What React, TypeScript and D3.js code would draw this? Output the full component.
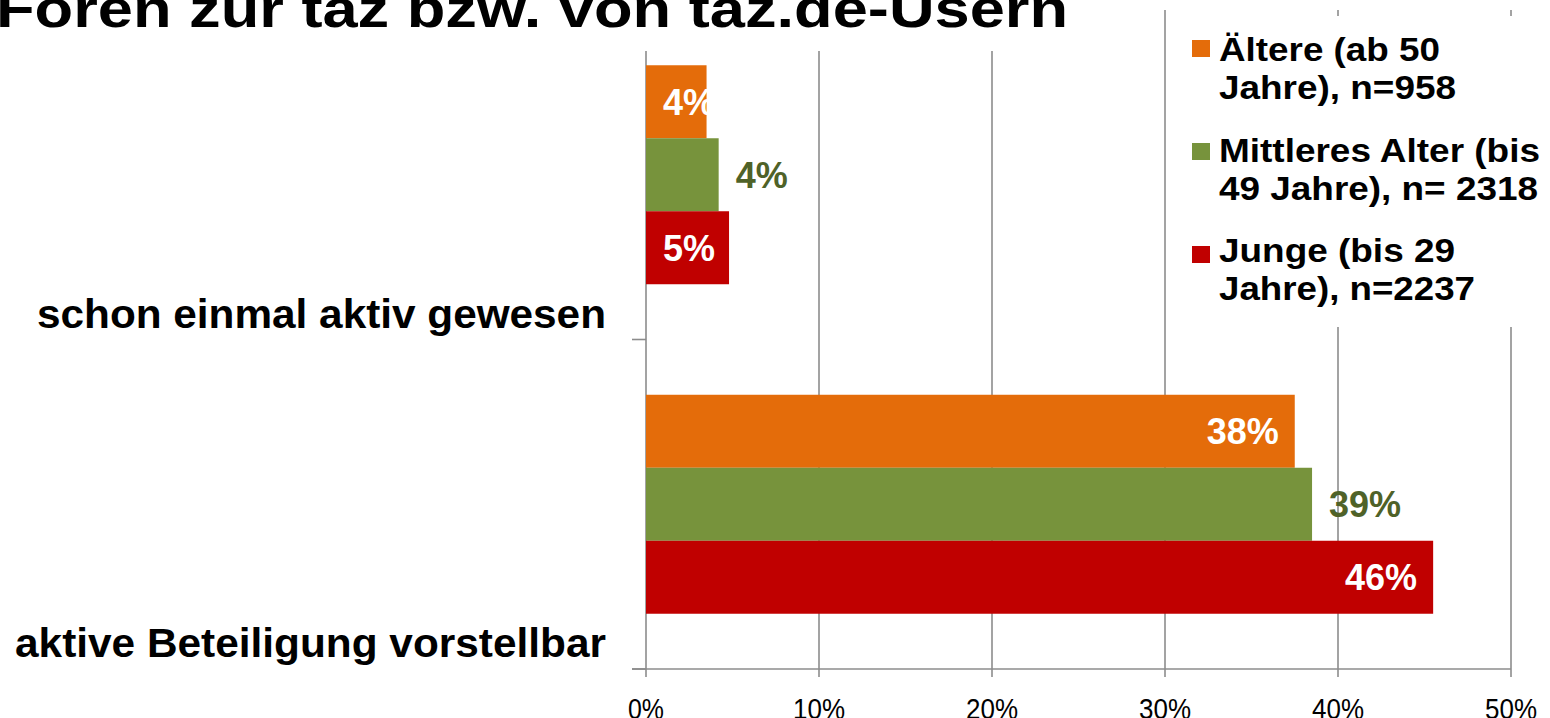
import React from "react";
import * as d3 from "d3";

const title = "Foren zur taz bzw. von taz.de-Usern";
const categories = ["schon einmal aktiv gewesen", "aktive Beteiligung vorstellbar"];
const seriesNames = ["Ältere", "Mittleres Alter", "Junge"];
const legendLines = [
  ["Ältere (ab 50", "Jahre), n=958"],
  ["Mittleres Alter (bis", "49 Jahre), n= 2318"],
  ["Junge (bis 29", "Jahre), n=2237"],
];
const aeltere = [3.5, 37.5];
const mittlere = [4.2, 38.5];
const junge = [4.8, 45.5];
const xTicks = [0, 10, 20, 30, 40, 50];

const colors = ["#E46C0A", "#77933C", "#C00000"];
const labelColors = ["#FFFFFF", "#4F6228", "#FFFFFF"];
const labelPos = ["inside", "outside", "inside"];
const legendWidths = [[221, 237], [321, 319], [236, 256]];
const catLabelWidths = [569, 591];

const FONT = "'Liberation Sans', Arial, Helvetica, sans-serif";

export default function App() {
  const W = 1550, H = 718;
  const x0 = 646, x1 = 1511, yTop = 10, yBot = 669;
  const series = [aeltere, mittlere, junge];

  const x = d3.scaleLinear().domain([0, 50]).range([x0, x1]);
  const y = d3.scaleBand().domain(categories).range([yTop, yBot]);
  const bw = y.bandwidth();
  const yi = d3.scaleBand().domain(seriesNames).range([0, bw]).paddingInner(0).paddingOuter(0.757);
  const barH = yi.bandwidth();

  const lfs = 36;
  const estW = (s: string) => {
    let w = 0;
    for (const c of s) w += c === "%" ? 0.889 : 0.556;
    return w * lfs;
  };

  return (
    <svg width={W} height={H} style={{ position: "absolute", left: 0, top: 0, display: "block", background: "#fff" }} fontFamily={FONT}>
      <rect x={0} y={0} width={W} height={H} fill="#fff" />
      {/* gridlines */}
      {xTicks.map((t) => (
        <line key={"g" + t} x1={x(t)} x2={x(t)} y1={yTop} y2={yBot + 8} stroke="#8C8C8C" strokeWidth={1.6} />
      ))}
      {/* horizontal axis */}
      <line x1={x0 - 14} x2={x1} y1={yBot} y2={yBot} stroke="#8C8C8C" strokeWidth={1.6} />
      {/* category ticks */}
      {categories.map((c) => (
        <line key={"ct" + c} x1={x0 - 14} x2={x0} y1={(y(c) as number) + bw} y2={(y(c) as number) + bw} stroke="#8C8C8C" strokeWidth={1.6} />
      ))}
      {/* title box */}
      <rect x={0} y={0} width={1150} height={51} fill="#fff" />
      <text x={-4} y={27} fontSize={53} fontWeight="bold" textLength={1072} lengthAdjust="spacingAndGlyphs" fill="#000">{title}</text>
      {/* bars */}
      {categories.map((c, ci) =>
        seriesNames.map((s, si) => {
          const v = series[si][ci];
          const by = (y(c) as number) + (yi(s) as number);
          const bx = x(0);
          const be = x(v);
          const label = Math.round(v) + "%";
          const w = estW(label);
          const cy = by + barH / 2 + 13;
          let lx: number, anchor: string;
          if (labelPos[si] === "outside") {
            lx = be + 17; anchor = "start";
          } else {
            const end = be - 16;
            if (end - w < bx + 17) { lx = bx + 17; anchor = "start"; }
            else { lx = end; anchor = "end"; }
          }
          return (
            <g key={c + s}>
              <rect x={bx} y={by} width={be - bx} height={barH} fill={colors[si]} />
              <text x={lx} y={cy} textAnchor={anchor} fontSize={lfs} fontWeight="bold" fill={labelColors[si]}>{label}</text>
            </g>
          );
        })
      )}
      {/* category labels */}
      {categories.map((c, ci) => (
        <text key={"cl" + c} x={606} y={(y(c) as number) + bw - 12} textAnchor="end" fontSize={41} fontWeight="bold" fill="#000" textLength={catLabelWidths[ci]} lengthAdjust="spacingAndGlyphs">{c}</text>
      ))}
      {/* x tick labels */}
      {xTicks.map((t) => {
        const lab = t + "%";
        return (
          <text key={"xl" + t} x={x(t)} y={719} textAnchor="middle" fontSize={29} fill="#000" textLength={lab.length === 2 ? 36 : 52} lengthAdjust="spacingAndGlyphs">{lab}</text>
        );
      })}
      {/* legend */}
      <rect x={1178} y={16} width={372} height={311} fill="#fff" />
      {legendLines.map((lines, i) => (
        <g key={"lg" + i}>
          <rect x={1192} y={40 + i * 103} width={18} height={17} fill={colors[i]} />
          {lines.map((ln, j) => (
            <text key={j} x={1219} y={61 + i * 100.5 + j * 38} fontSize={34} fontWeight="bold" fill="#000" textLength={legendWidths[i][j]} lengthAdjust="spacingAndGlyphs">{ln}</text>
          ))}
        </g>
      ))}
    </svg>
  );
}
